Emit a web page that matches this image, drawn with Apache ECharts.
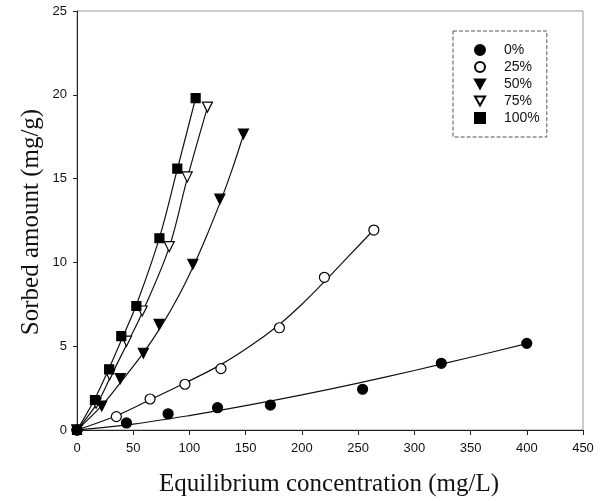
<!DOCTYPE html>
<html>
<head>
<meta charset="utf-8">
<script src="https://cdn.jsdelivr.net/npm/echarts@6/dist/echarts.min.js"></script>
<style>html,body{margin:0;padding:0;background:#fff}#c{width:604px;height:501px}</style>
</head>
<body>
<div id="c"></div>
<script>
// Measured points [concentration mg/L, sorbed mg/g]
const pts0   = [[0,0],[44,0.42],[81,0.97],[125,1.33],[172,1.49],[254,2.43],[324,3.98],[400,5.17]];
const pts25  = [[0,0],[35,0.8],[65,1.85],[96,2.73],[128,3.66],[180,6.1],[220,9.11],[264,11.93]];
const pts50  = [[0,0],[22,1.43],[38.5,3.06],[59,4.58],[73,6.3],[103,9.89],[127,13.77],[148,17.66]];
const pts75  = [[0,0],[17,1.6],[29,3.3],[44,5.3],[58,7.1],[82,10.94],[98,15.1],[116,19.27]];
const pts100 = [[0,0],[16,1.79],[28.6,3.62],[39.4,5.6],[52.8,7.4],[73.3,11.44],[89.2,15.6],[105.5,19.8]];

// Fitted curves
const fit0   = [[0,0],[50,0.35],[100,0.86],[150,1.45],[200,2.1],[250,2.8],[300,3.55],[350,4.34],[400,5.15]];
const fit25  = [[0,0],[35,0.85],[65,1.8],[96,2.8],[128,3.9],[155,5.05],[180,6.3],[200,7.5],[220,8.85],[242,10.4],[264,11.95]];
const fit50  = [[0,0],[22,1.45],[40,2.95],[59,4.6],[75,6.2],[90,7.95],[104,9.85],[116,11.7],[128,13.7],[138,15.55],[148,17.6]];
const fit75  = [[0,0],[18,1.6],[30,3.2],[45,5.2],[58,7.0],[82,10.9],[98,15.0],[116,19.25]];
const fit100 = [[0,0],[15,1.75],[28,3.6],[40,5.45],[53,7.5],[73,11.4],[89,15.5],[105.5,19.8]];

const seriesNames = ['0%','25%','50%','75%','100%'];
const xTitle = 'Equilibrium concentration (mg/L)';
const yTitle = 'Sorbed amount (mg/g)';

const downTri = 'path://M0,0 L10,0 L5,9 Z';
const chart = echarts.init(document.getElementById('c'), null, {renderer:'canvas'});

function curve(data){
  return {type:'line', data:data, smooth:0.35, showSymbol:false, symbol:'none',
          lineStyle:{color:'#111', width:1.2}, silent:true, z:2, legendHoverLink:false};
}
function pts(name, data, symbol, size, fill){
  return {type:'scatter', name:name, data:data, symbol:symbol, symbolSize:size, z:5,
          itemStyle:{color:fill, borderColor:'#000', borderWidth:1.2, opacity:1}};
}

const option = {
  animation:false,
  backgroundColor:'#fff',
  grid:{left:77, right:21, top:11, bottom:71, show:true, borderColor:'#999', borderWidth:1},
  xAxis:{type:'value', min:0, max:450, interval:50,
    axisLine:{show:true, onZero:false, lineStyle:{color:'#222', width:1}},
    axisTick:{show:true, length:5, lineStyle:{color:'#222'}},
    splitLine:{show:false},
    axisLabel:{color:'#111', fontFamily:'Liberation Sans', fontSize:13, margin:12}},
  yAxis:{type:'value', min:0, max:25, interval:5,
    axisLine:{show:true, onZero:false, lineStyle:{color:'#222', width:1}},
    axisTick:{show:true, length:4, lineStyle:{color:'#222'}},
    splitLine:{show:false},
    axisLabel:{color:'#111', fontFamily:'Liberation Sans', fontSize:13, margin:10}},
  legend:{data:seriesNames, orient:'vertical', left:453, top:31,
    padding:[12,7,12,21], itemGap:3, itemWidth:10, itemHeight:10,
    formatter:function(n){return '{a|' + n + '}';},
    borderColor:'#555', borderWidth:1, borderType:'dashed',
    textStyle:{color:'#111', fontFamily:'Liberation Sans', fontSize:14,
      rich:{a:{fontFamily:'Liberation Sans', fontSize:14, color:'#111', padding:[0,0,0,14]}}}},
  graphic:[
    {type:'text', x:329, y:484, style:{text:xTitle, fontFamily:'Liberation Serif', fontSize:25, fill:'#111', align:'center', verticalAlign:'middle'}},
    {type:'text', rotation:Math.PI/2, x:31, y:222, style:{text:yTitle, fontFamily:'Liberation Serif', fontSize:25, fill:'#111', align:'center', verticalAlign:'middle'}}
  ],
  series:[
    curve(fit0), curve(fit25), curve(fit50), curve(fit75), curve(fit100),
    pts('0%', pts0, 'circle', 10, '#000'),
    pts('25%', pts25, 'circle', 10, '#fff'),
    pts('50%', pts50, downTri, 10, '#000'),
    pts('75%', pts75, downTri, 10, '#fff'),
    pts('100%', pts100, 'rect', 9, '#000')
  ]
};
chart.setOption(option);
</script>
</body>
</html>
